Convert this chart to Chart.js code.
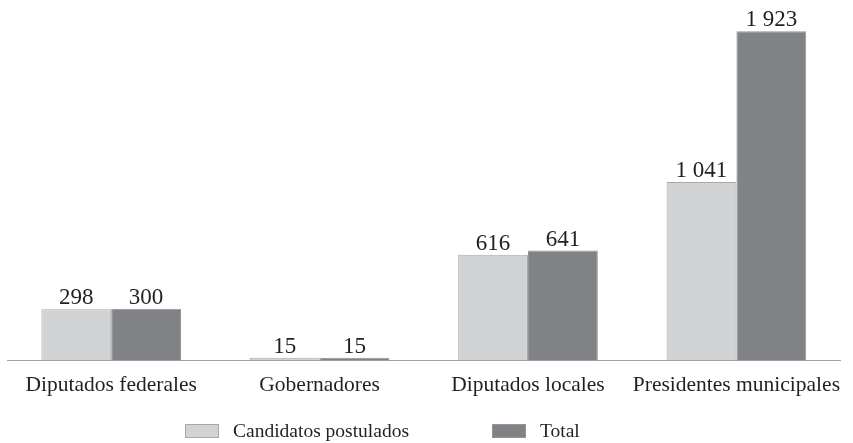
<!DOCTYPE html>
<html>
<head>
<meta charset="utf-8">
<script src="https://cdn.jsdelivr.net/npm/chart.js@4"></script>
<style>
  html, body { margin: 0; padding: 0; background: #fff; }
  #wrap { width: 853px; height: 443px; }
</style>
</head>
<body>
<div id="wrap"><canvas id="chart"></canvas></div>
<script>
var categories = ['Diputados federales', 'Gobernadores', 'Diputados locales', 'Presidentes municipales'];
var postulados = [298, 15, 616, 1041];
var totales = [300, 15, 641, 1923];
var seriesNames = ['Candidatos postulados', 'Total'];

var serif = "'Liberation Serif', 'DejaVu Serif', serif";

function fmt(n) {
    return String(n).replace(/\B(?=(\d{3})+(?!\d))/g, ' ');
}

// numbers above each bar
var valueLabels = {
    id: 'valueLabels',
    afterDatasetsDraw: function(chart) {
        var ctx = chart.ctx;
        ctx.save();
        ctx.font = '23px ' + serif;
        ctx.fillStyle = '#231f20';
        ctx.textAlign = 'center';
        ctx.textBaseline = 'alphabetic';
        chart.data.datasets.forEach(function(ds, i) {
            chart.getDatasetMeta(i).data.forEach(function(bar, j) {
                ctx.fillText(fmt(ds.data[j]), bar.x, bar.y - 5);
            });
        });
        ctx.restore();
    }
};

// legend row under the axis
var bottomLegend = {
    id: 'bottomLegend',
    afterDraw: function(chart) {
        var ctx = chart.ctx;
        var starts = [185, 492];
        ctx.save();
        ctx.font = '19.5px ' + serif;
        ctx.textBaseline = 'middle';
        chart.data.datasets.forEach(function(ds, i) {
            var x = starts[i];
            var y = 424;
            ctx.fillStyle = ds.backgroundColor;
            ctx.fillRect(x, y, 34, 14);
            ctx.strokeStyle = ds.borderColor;
            ctx.lineWidth = 1;
            ctx.strokeRect(x + 0.5, y + 0.5, 33, 13);
            ctx.fillStyle = '#231f20';
            ctx.fillText(ds.label, x + 48, y + 8);
        });
        ctx.restore();
    }
};

new Chart(document.getElementById('chart'), {
    type: 'bar',
    data: {
        labels: categories,
        datasets: [{
            label: seriesNames[0],
            data: postulados,
            backgroundColor: '#d1d3d4',
            borderColor: '#a7a9ac',
            borderWidth: 1
        }, {
            label: seriesNames[1],
            data: totales,
            backgroundColor: '#808285',
            borderColor: '#939598',
            borderWidth: 1
        }]
    },
    options: {
        responsive: true,
        maintainAspectRatio: false,
        animation: false,
        datasets: {
            bar: {
                categoryPercentage: 0.67,
                barPercentage: 1.0
            }
        },
        layout: {
            padding: { left: 7, right: 8, top: 18, bottom: 33 }
        },
        plugins: {
            legend: { display: false },
            tooltip: { enabled: false }
        },
        scales: {
            x: {
                grid: { display: false, drawTicks: false },
                border: { display: true, color: '#9d9fa2', width: 1 },
                ticks: {
                    color: '#231f20',
                    font: { family: serif, size: 21.5 },
                    padding: 12,
                    maxRotation: 0,
                    autoSkip: false
                }
            },
            y: {
                display: false,
                min: 0,
                max: 2000
            }
        }
    },
    plugins: [valueLabels, bottomLegend]
});
</script>
</body>
</html>
